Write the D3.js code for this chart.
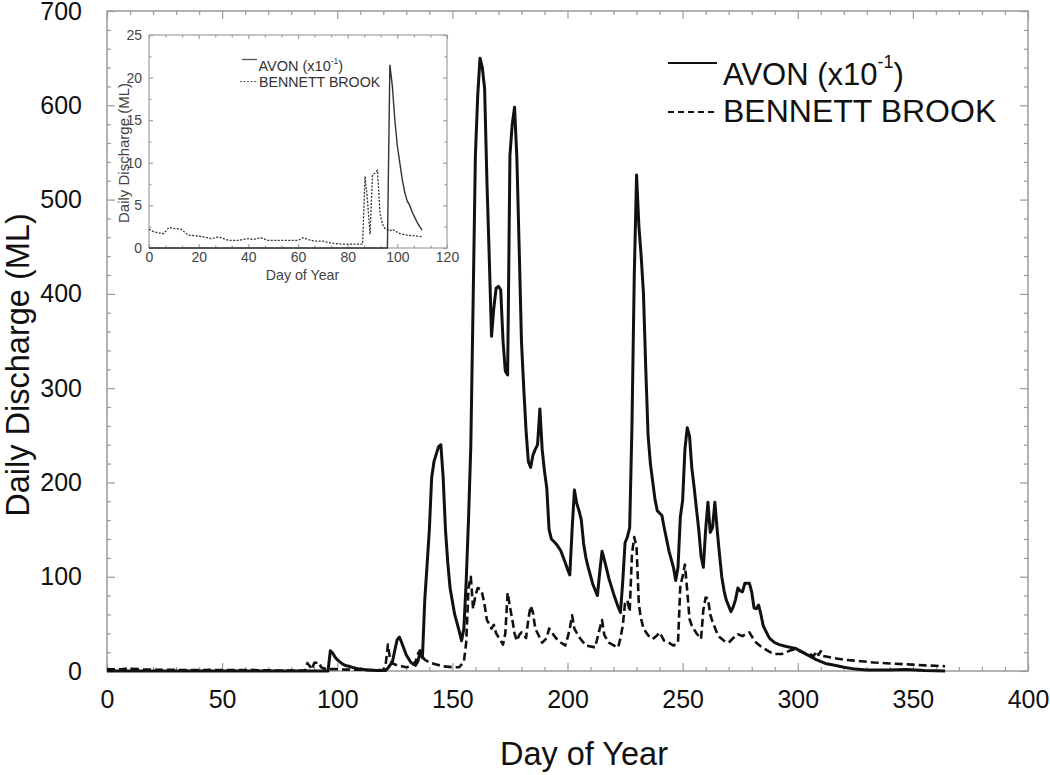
<!DOCTYPE html>
<html>
<head>
<meta charset="utf-8">
<script src="https://cdn.jsdelivr.net/npm/d3@7"></script>
<style>
  html, body { margin: 0; padding: 0; background: #fff; }
  svg { display: block; font-family: "Liberation Sans", Arial, sans-serif; }
</style>
</head>
<body>
<svg id="chart" width="1050" height="775"></svg>
<script>
// ---------------- DATA ----------------
const avonDays = [0,95,96,97,98,99,100,101,102,103,104,105,106,107,108,109,110,113,117,121,122,124,125,126,127,128,130,132,134,135,136,137,138,139,140,141,142,143,144,145,146,147,148,149,151,153,154,155,156,157,158,159,160,161,162,163,164,165,166,167,168,169,170,171,172,173,174,175,176,177,178,179,180,181,182,183,184,185,186,187,188,189,190,191,192,193,195,197,199,200,201,202,203,204,205,206,207,208,209,211,213,214,215,216,217,218,220,222,223,224,225,226,227,228,229,230,231,232,233,234,235,236,238,239,241,242,244,246,247,248,249,250,251,252,253,254,255,256,257,258,259,260,261,262,263,264,265,266,267,268,269,271,272,273,274,275,276,277,279,280,281,282,283,284,285,287,288,290,292,295,299,302,305,308,312,316,320,325,330,340,347,355,364];
const avonFlow = [0,0,0,21.5,19,15,12,10,8,6.5,5.5,5,4.2,3.6,3,2.5,2.1,1,0.5,0.5,3,10,22,33,36,30,17,9,6,10,20,14,75,112,150,205,222,230,238,240,205,150,115,88,60,42,32,45,95,160,238,390,547,610,650,640,618,520,440,355,385,406,408,404,350,318,314,547,580,598,545,450,350,300,255,222,216,229,235,240,278,235,212,194,150,140,135,128,115,108,102,150,192,178,170,160,135,120,110,92,80,105,127,118,108,98,82,68,62,95,136,142,152,260,420,526,472,440,400,320,250,220,182,170,165,152,128,110,96,110,163,181,235,258,249,215,195,172,150,122,110,150,179,147,152,179,150,124,100,85,75,63,68,76,88,85,84,93,93,84,67,66,70,60,48,38,34,30,28,26,24,20,16,12,8,6,4,2,1,1,1.5,0.5,0];

const bennettDays = [0,2,5,6,8,10,13,15,16,20,22,25,28,30,32,36,40,42,45,48,52,56,60,62,64,67,70,73,76,78,82,86,87,88,89,90,91,92,93,94,95,97,98,99,101,104,108,110,115,120,121,122,123,124,126,128,130,132,134,135,136,137,138,140,143,146,150,153,155,156,157,158,159,160,161,162,163,164,165,166,167,168,169,170,172,173,174,175,176,177,178,179,180,182,183,184,185,186,187,189,191,192,193,194,196,199,200,201,202,203,205,208,212,213,214,215,216,218,221,222,223,224,225,226,227,228,229,230,231,232,233,235,237,239,240,242,244,246,248,249,250,251,252,253,254,256,258,259,260,261,262,263,265,266,268,270,272,274,276,278,279,281,282,284,286,288,290,293,295,297,299,301,303,305,307,308,309,310,311,315,320,325,333,340,348,355,360,364];
const bennettFlow = [2.2,1.9,1.7,1.7,2.4,2.3,2.2,1.7,1.5,1.4,1.3,1.1,1.3,1.1,0.9,0.9,1.1,1.0,1.2,0.9,0.9,0.9,0.9,1.2,1.0,0.8,0.8,0.6,0.5,0.45,0.45,0.45,8.4,5.5,1.6,8.6,8.8,9.1,4.1,2.8,2.3,2.0,2.2,2.0,1.7,1.5,1.4,1.3,1.0,1.0,6,28,12,8,6,5,4,5,10,18,22,15,12,9,7,5,4,4,10,30,88,100,66,80,88,87,82,70,54,50,45,49,40,36,28,40,83,68,55,40,32,38,41,35,55,69,62,45,40,30,35,45,42,38,32,27,35,45,59,45,36,27,25,35,45,54,38,30,26,25,35,48,72,75,63,124,142,131,70,55,45,38,34,38,41,32,30,27,30,91,100,113,85,55,48,40,34,65,78,77,60,52,40,36,32,30,35,39,37,40,41,33,30,26,23,20,18,18,20,22,23,21,19,18,16,21,17,21,16,14,12,11,9,8,7,6,5.5,5];

const mainXTicks = [0,50,100,150,200,250,300,350,400];
const mainYTicks = [0,100,200,300,400,500,600,700];
const insetXTicks = [0,20,40,60,80,100,120];
const insetYTicks = [0,5,10,15,20,25];
const insetMaxDay = 110;

// ---------------- CHART ----------------
const svg = d3.select("#chart");
const frameColor = "#9a9a9a";

// Main scales
const x = d3.scaleLinear().domain([0, 400]).range([107, 1028]);
const y = d3.scaleLinear().domain([0, 700]).range([671, 11]);

const avon = avonDays.map((d, i) => ({ day: d, v: avonFlow[i] }));
const bennett = bennettDays.map((d, i) => ({ day: d, v: bennettFlow[i] }));

function styleAxis(g, color, fontSize, textColor) {
  g.select(".domain").remove();
  g.selectAll(".tick line").attr("stroke", color).attr("stroke-width", 1.2);
  g.selectAll(".tick text").attr("font-size", fontSize).attr("fill", textColor)
    .attr("font-family", '"Liberation Sans", Arial, sans-serif');
}

// minor ticks main
const xMinor = d3.range(0, 401, 10).filter(v => v % 50 !== 0);
const yMinor = d3.range(0, 701, 20).filter(v => v % 100 !== 0);

svg.append("g").attr("transform", "translate(0,671)")
  .call(d3.axisBottom(x).tickValues(xMinor).tickSize(-4).tickFormat(""))
  .call(g => styleAxis(g, frameColor, 1, "#000"));
svg.append("g").attr("transform", "translate(0,11)")
  .call(d3.axisTop(x).tickValues(xMinor).tickSize(-4).tickFormat(""))
  .call(g => styleAxis(g, frameColor, 1, "#000"));
svg.append("g").attr("transform", "translate(107,0)")
  .call(d3.axisLeft(y).tickValues(yMinor).tickSize(-4).tickFormat(""))
  .call(g => styleAxis(g, frameColor, 1, "#000"));
svg.append("g").attr("transform", "translate(1028,0)")
  .call(d3.axisRight(y).tickValues(yMinor).tickSize(-4).tickFormat(""))
  .call(g => styleAxis(g, frameColor, 1, "#000"));

// major ticks main with labels
svg.append("g").attr("transform", "translate(0,671)")
  .call(d3.axisBottom(x).tickValues(mainXTicks).tickSize(-8).tickPadding(19).tickFormat(d3.format("d")))
  .call(g => styleAxis(g, frameColor, 25, "#111"));
svg.append("g").attr("transform", "translate(0,11)")
  .call(d3.axisTop(x).tickValues(mainXTicks).tickSize(-8).tickFormat(""))
  .call(g => styleAxis(g, frameColor, 1, "#000"));
svg.append("g").attr("transform", "translate(107,0)")
  .call(d3.axisLeft(y).tickValues(mainYTicks).tickSize(-8).tickPadding(25).tickFormat(d3.format("d")))
  .call(g => styleAxis(g, frameColor, 25, "#111"));
svg.append("g").attr("transform", "translate(1028,0)")
  .call(d3.axisRight(y).tickValues(mainYTicks).tickSize(-8).tickFormat(""))
  .call(g => styleAxis(g, frameColor, 1, "#000"));

// frame
svg.append("rect").attr("x", 107).attr("y", 11).attr("width", 1028 - 107).attr("height", 671 - 11)
  .attr("fill", "none").attr("stroke", frameColor).attr("stroke-width", 1.5);

// lines main
const line = d3.line().x(d => x(d.day)).y(d => y(d.v));
svg.append("path").datum(bennett).attr("d", line)
  .attr("fill", "none").attr("stroke", "#111").attr("stroke-width", 2.6)
  .attr("stroke-dasharray", "8,4").attr("stroke-linejoin", "round");
svg.append("path").datum(avon).attr("d", line)
  .attr("fill", "none").attr("stroke", "#111").attr("stroke-width", 3)
  .attr("stroke-linejoin", "round");

// axis titles
svg.append("text").attr("x", 584).attr("y", 765).attr("text-anchor", "middle")
  .attr("font-size", 32.5).attr("fill", "#111").text("Day of Year");
svg.append("text").attr("transform", "translate(29,365) rotate(-90)").attr("text-anchor", "middle")
  .attr("font-size", 32.5).attr("fill", "#111").text("Daily Discharge (ML)");

// legend main
const lg = svg.append("g");
lg.append("line").attr("x1", 668).attr("x2", 717).attr("y1", 63).attr("y2", 63)
  .attr("stroke", "#111").attr("stroke-width", 2.2);
const t1 = lg.append("text").attr("x", 723).attr("y", 85).attr("font-size", 31).attr("fill", "#111");
t1.append("tspan").text("AVON (x10");
t1.append("tspan").attr("font-size", 18).attr("dy", -17).text("-1");
t1.append("tspan").attr("dy", 17).text(")");
lg.append("line").attr("x1", 668).attr("x2", 717).attr("y1", 112).attr("y2", 112)
  .attr("stroke", "#111").attr("stroke-width", 2.2).attr("stroke-dasharray", "6,4");
lg.append("text").attr("x", 723).attr("y", 122).attr("font-size", 32).attr("fill", "#111").text("BENNETT BROOK");

// ---------------- INSET ----------------
const ix = d3.scaleLinear().domain([0, 120]).range([149, 447]);
const iy = d3.scaleLinear().domain([0, 25]).range([248, 35]);
const inset = svg.append("g");
inset.append("rect").attr("x", 149).attr("y", 35).attr("width", 447 - 149).attr("height", 248 - 35)
  .attr("fill", "#fff");

const ixMinor = d3.range(0, 121, 20 / 3).filter((v, i) => i % 3 !== 0);
const iyMinor = d3.range(2.5, 25, 5);
const insetColor = "#a0a0a0";

inset.append("g").attr("transform", "translate(0,248)")
  .call(d3.axisBottom(ix).tickValues(ixMinor).tickSize(-2.5).tickFormat(""))
  .call(g => styleAxis(g, insetColor, 1, "#000"));
inset.append("g").attr("transform", "translate(0,35)")
  .call(d3.axisTop(ix).tickValues(ixMinor).tickSize(-2.5).tickFormat(""))
  .call(g => styleAxis(g, insetColor, 1, "#000"));
inset.append("g").attr("transform", "translate(149,0)")
  .call(d3.axisLeft(iy).tickValues(iyMinor).tickSize(-2.5).tickFormat(""))
  .call(g => styleAxis(g, insetColor, 1, "#000"));
inset.append("g").attr("transform", "translate(447,0)")
  .call(d3.axisRight(iy).tickValues(iyMinor).tickSize(-2.5).tickFormat(""))
  .call(g => styleAxis(g, insetColor, 1, "#000"));

inset.append("g").attr("transform", "translate(0,248)")
  .call(d3.axisBottom(ix).tickValues(insetXTicks).tickSize(-4).tickPadding(4).tickFormat(d3.format("d")))
  .call(g => styleAxis(g, insetColor, 14, "#444"));
inset.append("g").attr("transform", "translate(0,35)")
  .call(d3.axisTop(ix).tickValues(insetXTicks).tickSize(-4).tickFormat(""))
  .call(g => styleAxis(g, insetColor, 1, "#000"));
inset.append("g").attr("transform", "translate(149,0)")
  .call(d3.axisLeft(iy).tickValues(insetYTicks).tickSize(-4).tickPadding(7).tickFormat(d3.format("d")))
  .call(g => styleAxis(g, insetColor, 14, "#444"));
inset.append("g").attr("transform", "translate(447,0)")
  .call(d3.axisRight(iy).tickValues(insetYTicks).tickSize(-4).tickFormat(""))
  .call(g => styleAxis(g, insetColor, 1, "#000"));

inset.append("rect").attr("x", 149).attr("y", 35).attr("width", 447 - 149).attr("height", 248 - 35)
  .attr("fill", "none").attr("stroke", insetColor).attr("stroke-width", 1.2);

const iline = d3.line().x(d => ix(d.day)).y(d => iy(d.v));
inset.append("path").datum(bennett.filter(d => d.day <= insetMaxDay)).attr("d", iline)
  .attr("fill", "none").attr("stroke", "#333").attr("stroke-width", 1.3)
  .attr("stroke-dasharray", "2,1.5");
inset.append("path").datum(avon.filter(d => d.day <= insetMaxDay)).attr("d", iline)
  .attr("fill", "none").attr("stroke", "#333").attr("stroke-width", 1.4);

inset.append("text").attr("x", 302.5).attr("y", 280).attr("text-anchor", "middle")
  .attr("font-size", 14.2).attr("fill", "#444").text("Day of Year");
inset.append("text").attr("transform", "translate(129,153) rotate(-90)").attr("text-anchor", "middle")
  .attr("font-size", 15).attr("fill", "#444").text("Daily Discharge (ML)");

inset.append("line").attr("x1", 242).attr("x2", 257).attr("y1", 59.5).attr("y2", 59.5)
  .attr("stroke", "#555").attr("stroke-width", 1.3);
const it1 = inset.append("text").attr("x", 258.5).attr("y", 70.5).attr("font-size", 14.5).attr("fill", "#333");
it1.append("tspan").text("AVON (x10");
it1.append("tspan").attr("font-size", 8.5).attr("dy", -7).text("-1");
it1.append("tspan").attr("dy", 7).text(")");
inset.append("line").attr("x1", 240).attr("x2", 258).attr("y1", 81.5).attr("y2", 81.5)
  .attr("stroke", "#555").attr("stroke-width", 1.2).attr("stroke-dasharray", "2,1.5");
inset.append("text").attr("x", 259).attr("y", 86.5).attr("font-size", 14.2).attr("fill", "#333").text("BENNETT BROOK");
</script>
</body>
</html>
